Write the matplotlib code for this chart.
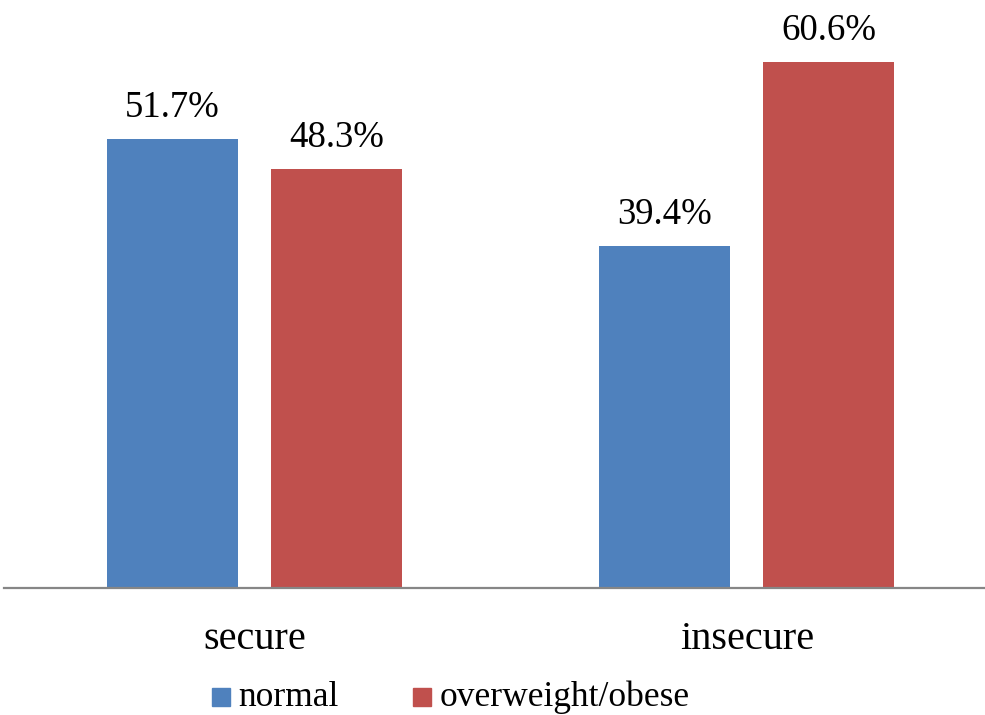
import matplotlib
matplotlib.use('Agg')
import matplotlib.pyplot as plt
from matplotlib.patches import Rectangle
import numpy as np

plt.rcParams['font.family'] = ['Liberation Serif', 'DejaVu Serif']

# data
categories = ['secure', 'insecure']
series_names = ['normal', 'overweight/obese']
normal = [51.7, 39.4]
overweight = [48.3, 60.6]

colors = ['#4F81BD', '#C0504D']

W, H = 985, 715
fig = plt.figure(figsize=(W / 100, H / 100), dpi=100)

# axes placed in pixel terms: baseline at y=588, top at y=0
ax = fig.add_axes([4 / W, 1 - 588 / H, 981 / W, 588 / H])
ax.set_xlim(-0.5086, 1.4834)
ax.set_ylim(0, 588 / 8.68)

x = np.arange(len(categories))
bw = 0.266
off = 0.1665
for vals, dx, c in [(normal, -off, colors[0]), (overweight, off, colors[1])]:
    bars = ax.bar(x + dx, vals, width=bw, color=c, zorder=2)
    for b, v in zip(bars, vals):
        ax.annotate(f'{v:.1f}%', (b.get_x() + b.get_width() / 2, v),
                    xytext=(0, 16), textcoords='offset points',
                    ha='center', va='baseline', fontsize=26.5, color='black')

for s in ['top', 'right', 'left']:
    ax.spines[s].set_visible(False)
ax.spines['bottom'].set_color('#868686')
ax.spines['bottom'].set_linewidth(1.6)
ax.set_yticks([])
ax.set_xticks([])

# category labels
for xi, name in zip(x, categories):
    px = 254.5 + xi * 492.5
    fig.text(px / W, 1 - 649 / H, name, ha='center', va='baseline',
             fontsize=29, color='black')

# legend drawn by hand along the bottom edge
leg_items = [(212, 238), (413, 440)]
for (sx, tx), name, c in zip(leg_items, series_names, colors):
    fig.add_artist(Rectangle((sx / W, 1 - 706 / H), 18 / W, 18 / H,
                             transform=fig.transFigure, color=c))
    fig.text(tx / W, 1 - 706 / H, name, ha='left', va='baseline',
             fontsize=25.5, color='black')

fig.savefig('out.png', dpi=100)
